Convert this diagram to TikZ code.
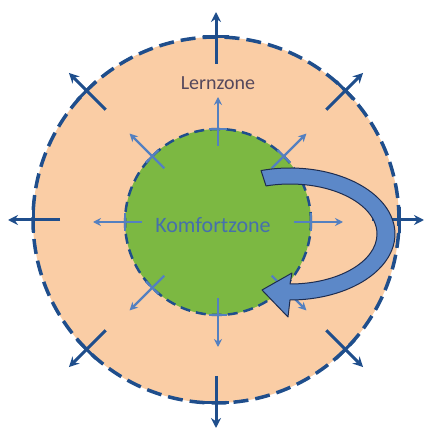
\documentclass[tikz,border=0pt]{standalone}
\usepackage{fontspec}
\setmainfont{Carlito}
\usetikzlibrary{arrows.meta,calc}
\definecolor{peach}{RGB}{250,205,165}
\definecolor{grass}{RGB}{124,184,66}
\definecolor{darkblue}{RGB}{31,78,140}
\definecolor{lightblue}{RGB}{84,128,192}
\definecolor{loopblue}{RGB}{92,136,200}
\definecolor{loopline}{RGB}{30,45,80}
\definecolor{lerncol}{RGB}{85,72,92}
\definecolor{komfcol}{RGB}{70,112,172}
\tikzset{
  zone/.style       = {circle, inner sep=0pt},
  outerarrow/.style = {-{Stealth[length=10pt,width=10pt]}, line width=3pt, draw=darkblue},
  outertick/.style  = {line width=3pt, draw=darkblue},
  innerarrow/.style = {-{Stealth[length=8pt,width=8pt]}, line width=2.2pt, draw=lightblue},
  innertick/.style  = {line width=2.2pt, draw=lightblue},
  bigarrow/.style   = {fill=loopblue, draw=loopline, line width=1pt, line join=round},
  label/.style      = {inner sep=0pt},
}
\begin{document}
\begin{tikzpicture}[x=1pt,y=1pt]
  \useasboundingbox (0,0) rectangle (427,432);

  % zones
  \node[zone, fill=peach, draw=darkblue, line width=3.5pt, dash pattern=on 15pt off 7pt,
        minimum size=366pt] (learn) at (216,212) {};
  \node[zone, fill=grass, draw=darkblue, line width=2.5pt, dash pattern=on 10pt off 6pt,
        minimum size=186pt] (comfort) at (218,210) {};

  % arrows pushing the zones outwards
  \foreach \a in {0,45,...,315} {
    \draw[outerarrow] ($(learn.center)+(\a:156)$) -- ($(learn.center)+(\a:208)$);
    \draw[outertick]  ($(learn.center)+(\a:183)+(\a+90:13)$) -- ($(learn.center)+(\a:183)+(\a-90:13)$);
    \draw[innerarrow] ($(comfort.center)+(\a:76)$) -- ($(comfort.center)+(\a:125)$);
    \draw[innertick]  ($(comfort.center)+(\a:93)+(\a+90:9)$) -- ($(comfort.center)+(\a:93)+(\a-90:9)$);
  }

  % loop back into the comfort zone
  \coordinate (loop) at (290,198);
  \draw[bigarrow] ($(loop)+(106:105 and 66)$)
      arc[start angle=106, end angle=-90, x radius=105, y radius=66]
      -- ($(loop)+(-2,-83)$) -- ($(loop)+(-28,-56)$) -- ($(loop)+(2,-39)$)
      -- ($(loop)+(0,-50)$)
      arc[start angle=-90, end angle=106, x radius=87, y radius=50]
      -- cycle;

  % labels
  \node[label, font=\fontsize{20}{24}\selectfont, text=lerncol] (lerntext) at (218,349) {Lernzone};
  \node[label, font=\fontsize{22}{26}\selectfont, text=komfcol] (komftext) at (213,207) {Komfortzone};
\end{tikzpicture}
\end{document}
